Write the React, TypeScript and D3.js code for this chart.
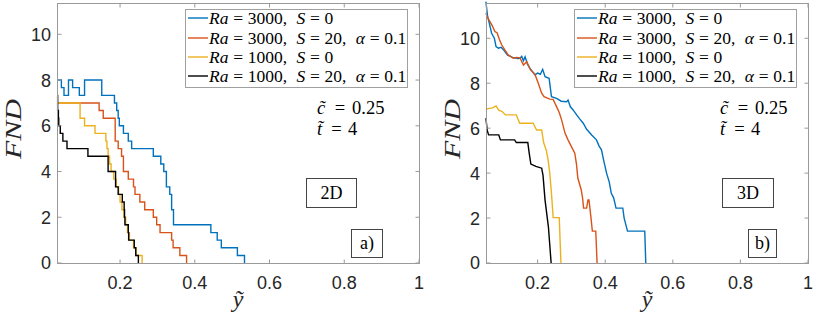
import React from "react";
import * as d3 from "d3";

// values: [y~, FND]
const blue2D: [number, number][] = [
  [0.03125, 8], [0.043, 7.67], [0.05, 7.33], [0.062, 8], [0.073, 7.67], [0.091, 7.33],
  [0.105, 8], [0.151, 7.33], [0.185, 7.0], [0.191, 6.67], [0.195, 6.33], [0.198, 6.0],
  [0.209, 5.67], [0.222, 5.33], [0.231, 5.0], [0.289, 4.67], [0.309, 4.33], [0.317, 4.0],
  [0.324, 3.33], [0.333, 3.0], [0.338, 2.33], [0.343, 1.67], [0.443, 1.33], [0.46, 1.0],
  [0.471, 0.67], [0.514, 0.33], [0.533, 0],
];
const red2D: [number, number][] = [
  [0.03125, 7], [0.144, 6.67], [0.155, 6.33], [0.187, 5.33], [0.195, 5.0], [0.204, 4.67],
  [0.209, 4.0], [0.222, 3.67], [0.236, 3.33], [0.24, 3.0], [0.253, 2.67], [0.266, 2.33],
  [0.289, 2.0], [0.298, 1.67], [0.307, 1.33], [0.338, 1.0], [0.342, 0.67], [0.36, 0.33],
  [0.378, 0],
];
const yellow2D: [number, number][] = [
  [0.03125, 7], [0.093, 6.33], [0.105, 6.0], [0.133, 5.67], [0.162, 5.33], [0.165, 5.0],
  [0.168, 4.67], [0.172, 4.33], [0.176, 4.0], [0.183, 3.67], [0.19, 3.33], [0.196, 3.0],
  [0.2, 2.67], [0.205, 2.33], [0.21, 2.0], [0.215, 1.67], [0.22, 1.33], [0.225, 1.0],
  [0.236, 0.67], [0.243, 0.33], [0.259, 0],
];
const black2D: [number, number][] = [
  [0.03125, 7.33], [0.033, 6.67], [0.035, 6.33], [0.036, 6.0], [0.04, 5.67], [0.047, 5.33],
  [0.058, 5.0], [0.114, 4.67], [0.168, 4.0], [0.188, 3.33], [0.195, 3.0], [0.206, 2.67],
  [0.211, 2.33], [0.212, 2.0], [0.213, 1.67], [0.222, 1.33], [0.223, 1.0], [0.238, 0.67],
  [0.242, 0.33], [0.249, 0],
];

const blue3D: [number, number][] = [
  [0.047, 11.63], [0.052, 10.98], [0.057, 10.68], [0.064, 10.22], [0.072, 10.0], [0.077, 9.63],
  [0.084, 9.56], [0.092, 9.6], [0.101, 9.45], [0.111, 9.25], [0.126, 9.15], [0.141, 9.1],
  [0.148, 9.11], [0.153, 9.2], [0.158, 9.0], [0.163, 9.18], [0.17, 8.85], [0.177, 8.67],
  [0.192, 8.37], [0.2, 8.45], [0.208, 8.4], [0.215, 8.62], [0.222, 8.29], [0.234, 8.22],
  [0.241, 7.4], [0.256, 7.33], [0.27, 7.2], [0.286, 7.18], [0.29, 7.25], [0.297, 6.95],
  [0.305, 6.81], [0.315, 6.6], [0.325, 6.4], [0.335, 6.22], [0.345, 5.95], [0.36, 5.7],
  [0.374, 5.48], [0.382, 5.2], [0.389, 5.04], [0.395, 4.6], [0.404, 4.0], [0.412, 3.6],
  [0.418, 3.1], [0.425, 2.9], [0.432, 2.44], [0.452, 2.44], [0.456, 2.0], [0.466, 1.42],
  [0.517, 1.42], [0.52, 0],
];
const red3D: [number, number][] = [
  [0.047, 11.11], [0.053, 10.9], [0.059, 10.74], [0.066, 10.55], [0.074, 10.29], [0.08, 10.25],
  [0.087, 9.95], [0.094, 9.7], [0.103, 9.48], [0.113, 9.26], [0.128, 9.11], [0.138, 9.15],
  [0.148, 9.13], [0.158, 8.81], [0.168, 8.96], [0.179, 8.59], [0.192, 8.4], [0.202, 8.0],
  [0.212, 7.56], [0.219, 7.4], [0.236, 7.29], [0.246, 7.28], [0.256, 6.96], [0.264, 6.7],
  [0.271, 6.37], [0.281, 5.78], [0.29, 5.48], [0.3, 5.18], [0.31, 4.89], [0.315, 4.4],
  [0.319, 3.78], [0.329, 3.26], [0.333, 2.9], [0.336, 2.44], [0.345, 2.44], [0.349, 2.81],
  [0.352, 2.81], [0.358, 2.0], [0.362, 1.42], [0.372, 1.42], [0.376, 0],
];
const yellow3D: [number, number][] = [
  [0.047, 6.84], [0.057, 6.88], [0.067, 6.9], [0.077, 6.99], [0.085, 6.8], [0.095, 6.74],
  [0.105, 6.59], [0.137, 6.59], [0.147, 6.22], [0.187, 6.22], [0.197, 5.92], [0.212, 5.92],
  [0.218, 5.35], [0.226, 5.0], [0.231, 4.6], [0.236, 4.0], [0.241, 3.1], [0.246, 2.02],
  [0.264, 2.02], [0.269, 0],
];
const black3D: [number, number][] = [
  [0.047, 6.44], [0.051, 5.9], [0.055, 5.7], [0.085, 5.7], [0.09, 5.48], [0.132, 5.48],
  [0.137, 5.36], [0.171, 5.36], [0.175, 4.9], [0.18, 4.4], [0.195, 4.3], [0.212, 4.22],
  [0.216, 3.9], [0.222, 2.8], [0.232, 1.6], [0.236, 0.8], [0.24, 0],
];

const xTicks = [0.2, 0.4, 0.6, 0.8, 1];
const yTicks = [0, 2, 4, 6, 8, 10];
const colors = ["#0072BD", "#D95319", "#EDB120", "#000000"];
const legendRa = [3000, 3000, 1000, 1000];
const legendS = [0, 20, 0, 20];
const legendAlpha = [null, 0.1, null, 0.1];
const noteC = 0.25;
const noteT = 4;

const panels = [
  {
    left: 57, right: 419, xMin: 0.03125, yMax: 11.37, data: [blue2D, red2D, yellow2D, black2D],
    step: true, tag: "2D", tagBox: [306, 178, 50, 29], letter: "a)", letterBox: [351, 229, 31, 28],
    legendX: 185, noteX: 317, yLabelX: 21,
  },
  {
    left: 486, right: 808, xMin: 0.0473, yMax: 11.57, data: [blue3D, red3D, yellow3D, black3D],
    step: false, tag: "3D", tagBox: [722, 178, 51, 29], letter: "b)", letterBox: [748, 229, 28, 28],
    legendX: 574, noteX: 720, yLabelX: 460,
  },
];

const top = 3;
const bottom = 263;
const sans = "'Liberation Sans', Arial, Helvetica, sans-serif";
const serif = "'Liberation Serif', 'Times New Roman', serif";
const axisColor = "#9a9a9a";
const textColor = "#262626";

type Piece = { t: string; it?: boolean; gap: number };

// legend label pieces, flowed like LaTeX math: gap = space before the piece
const legendPieces = (i: number): Piece[] => {
  const g = 4.7;
  const G = 9.4;
  const hasAlpha = legendAlpha[i] != null;
  const out: Piece[] = [
    { t: "Ra", it: true, gap: 0 },
    { t: "=", gap: g },
    { t: `${legendRa[i]},`, gap: g },
    { t: "S", it: true, gap: G },
    { t: "=", gap: g },
    { t: `${legendS[i]}${hasAlpha ? "," : ""}`, gap: g },
  ];
  if (hasAlpha) {
    out.push({ t: "α", it: true, gap: G });
    out.push({ t: "=", gap: g });
    out.push({ t: String(legendAlpha[i]), gap: g });
  }
  return out;
};

const Panel = ({ p }: { p: (typeof panels)[number] }) => {
  const x = d3.scaleLinear().domain([p.xMin, 1]).range([p.left, p.right]);
  const y = d3.scaleLinear().domain([0, p.yMax]).range([bottom, top]);
  const line = d3
    .line<[number, number]>()
    .x((d) => x(d[0]))
    .y((d) => y(d[1]))
    .curve(p.step ? d3.curveStepAfter : d3.curveLinear);
  const L = p.left + 0.5;
  const R = p.right + 0.5;
  const T = top + 0.5;
  const B = bottom + 0.5;
  const tl = 4;
  const lw = 222;
  const rows = [18, 38, 57, 76];
  const midY = (top + bottom) / 2;

  return (
    <g>
      <rect x={p.left} y={top} width={p.right - p.left} height={bottom - top} fill="#fff" />
      {p.data.map((d, i) => (
        <path key={i} d={line(d) || ""} fill="none" stroke={colors[i]} strokeWidth={1.4} />
      ))}
      <rect x={L} y={T} width={R - L} height={B - T} fill="none" stroke={axisColor} strokeWidth={1} />
      {xTicks.map((t) => (
        <g key={t}>
          <line x1={x(t)} x2={x(t)} y1={B} y2={B - tl} stroke={axisColor} />
          <line x1={x(t)} x2={x(t)} y1={T} y2={T + tl} stroke={axisColor} />
          <text x={x(t)} y={289} textAnchor="middle" fontFamily={sans} fontSize={18} fill={textColor}>
            {String(t)}
          </text>
        </g>
      ))}
      {yTicks.map((t) => (
        <g key={t}>
          <line x1={L} x2={L + tl} y1={y(t)} y2={y(t)} stroke={axisColor} />
          <line x1={R} x2={R - tl} y1={y(t)} y2={y(t)} stroke={axisColor} />
          <text x={p.left - 6} y={y(t)} dy="0.36em" textAnchor="end" fontFamily={sans} fontSize={18} fill={textColor}>
            {String(t)}
          </text>
        </g>
      ))}
      <text
        transform={`translate(${p.yLabelX},${midY - 4}) rotate(-90)`}
        textAnchor="middle"
        fontFamily={serif}
        fontStyle="italic"
        fontSize={24}
        fill={textColor}
        textLength={60}
        lengthAdjust="spacingAndGlyphs"
      >
        FND
      </text>
      <text x={(p.left + p.right) / 2} y={307} textAnchor="middle" fontFamily={serif} fontStyle="italic" fontSize={24} fill={textColor}>
        {"\u1EF9"}
      </text>

      {/* legend */}
      <rect x={p.legendX + 0.5} y={9.5} width={lw} height={78} fill="#fff" stroke="#a0a0a0" strokeWidth={1} />
      {rows.map((ry, i) => (
        <g key={i}>
          <line x1={p.legendX + 3} x2={p.legendX + 23} y1={ry} y2={ry} stroke={colors[i]} strokeWidth={1.4} />
          <text x={p.legendX + 24} y={ry} dy="0.34em" fontFamily={serif} fontSize={17.5} fill="#000">
            {legendPieces(i).map((s, k) => (
              <tspan key={k} dx={s.gap} fontStyle={s.it ? "italic" : "normal"}>
                {s.t}
              </tspan>
            ))}
          </text>
        </g>
      ))}

      {/* notes */}
      <text x={p.noteX} y={114} fontFamily={serif} fontStyle="italic" fontSize={18.5} fill="#000">{"c\u0303"}</text>
      <text x={p.noteX + 23} y={114} textAnchor="middle" fontFamily={serif} fontSize={18.5} fill="#000">=</text>
      <text x={p.noteX + 35} y={114} fontFamily={serif} fontSize={18.5} fill="#000">{String(noteC)}</text>
      <text x={p.noteX} y={135} fontFamily={serif} fontStyle="italic" fontSize={18.5} fill="#000">{"t\u0303"}</text>
      <text x={p.noteX + 19.5} y={135} textAnchor="middle" fontFamily={serif} fontSize={18.5} fill="#000">=</text>
      <text x={p.noteX + 31} y={135} fontFamily={serif} fontSize={18.5} fill="#000">{String(noteT)}</text>

      <rect x={p.tagBox[0] + 0.5} y={p.tagBox[1] + 0.5} width={p.tagBox[2]} height={p.tagBox[3]} fill="#fff" stroke="#444" />
      <text x={p.tagBox[0] + p.tagBox[2] / 2 + 0.5} y={p.tagBox[1] + p.tagBox[3] / 2 + 6} textAnchor="middle" fontFamily={serif} fontSize={18} fill="#000">
        {p.tag}
      </text>
      <rect x={p.letterBox[0] + 0.5} y={p.letterBox[1] + 0.5} width={p.letterBox[2]} height={p.letterBox[3]} fill="#fff" stroke="#444" />
      <text x={p.letterBox[0] + p.letterBox[2] / 2 + 0.5} y={p.letterBox[1] + p.letterBox[3] / 2 + 6} textAnchor="middle" fontFamily={serif} fontSize={18} fill="#000">
        {p.letter}
      </text>
    </g>
  );
};

export default function App() {
  return (
    <svg
      width={814}
      height={321}
      style={{ position: "absolute", left: 0, top: 0, background: "#fff" }}
    >
      {panels.map((p) => (
        <Panel key={p.tag} p={p} />
      ))}
    </svg>
  );
}
